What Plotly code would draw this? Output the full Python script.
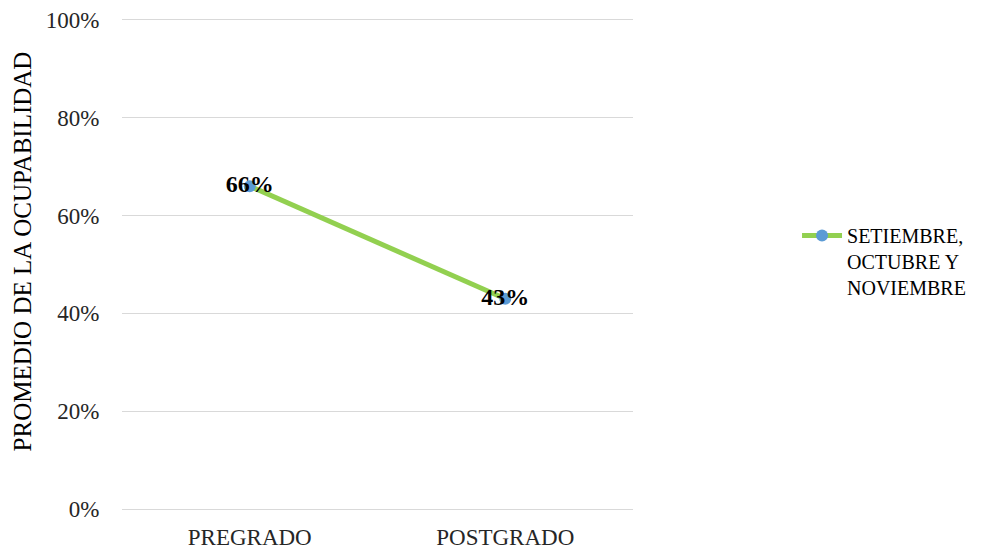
import plotly.graph_objects as go

categories = ["PREGRADO", "POSTGRADO"]
values = [0.66, 0.43]
labels = ["66%", "43%"]
series_name = "SETIEMBRE,<br>OCTUBRE Y<br>NOVIEMBRE"
y_title = "PROMEDIO DE LA OCUPABILIDAD"
y_ticks = [0, 0.2, 0.4, 0.6, 0.8, 1.0]
y_tick_labels = ["0%", "20%", "40%", "60%", "80%", "100%"]

font_family = "Liberation Serif, Times New Roman, serif"

fig = go.Figure()
fig.add_trace(go.Scatter(
    x=categories, y=values, name=series_name,
    mode="lines+markers+text",
    line=dict(color="#92D050", width=5),
    marker=dict(color="#5B9BD5", size=12),
    text=labels, textposition="middle center",
    textfont=dict(family=font_family, size=24, color="black"),
    texttemplate="<b>%{text}</b>",
))

fig.add_annotation(
    text=y_title, textangle=-90, showarrow=False,
    xref="paper", yref="paper", x=-0.194, y=0.526,
    xanchor="center", yanchor="middle",
    font=dict(family=font_family, size=25, color="black"),
)

fig.update_layout(
    width=997, height=553,
    margin=dict(l=114, r=372, t=7, b=47),
    paper_bgcolor="white", plot_bgcolor="white",
    font=dict(family=font_family, size=23, color="#262626"),
    showlegend=True,
    legend=dict(x=1.321, y=0.597, xanchor="left", yanchor="top",
                valign="top",
                font=dict(family=font_family, size=20, color="black"),
                itemwidth=40),
    xaxis=dict(showgrid=False, showline=False,
               ticks="outside", ticklen=2, tickcolor="white",
               range=[-0.5, 1.5], automargin=False,
               ticklabeloverflow="allow",
               tickfont=dict(size=23, color="#262626")),
    yaxis=dict(range=[-0.01, 1.01], tickvals=y_ticks, ticktext=y_tick_labels,
               showgrid=True, gridcolor="#D9D9D9", gridwidth=1,
               zeroline=False, showline=False, automargin=False,
               ticks="outside", ticklen=17, tickcolor="white",
               ticklabeloverflow="allow",
               tickfont=dict(size=23, color="#262626")),
)

fig.write_html("out.html")
